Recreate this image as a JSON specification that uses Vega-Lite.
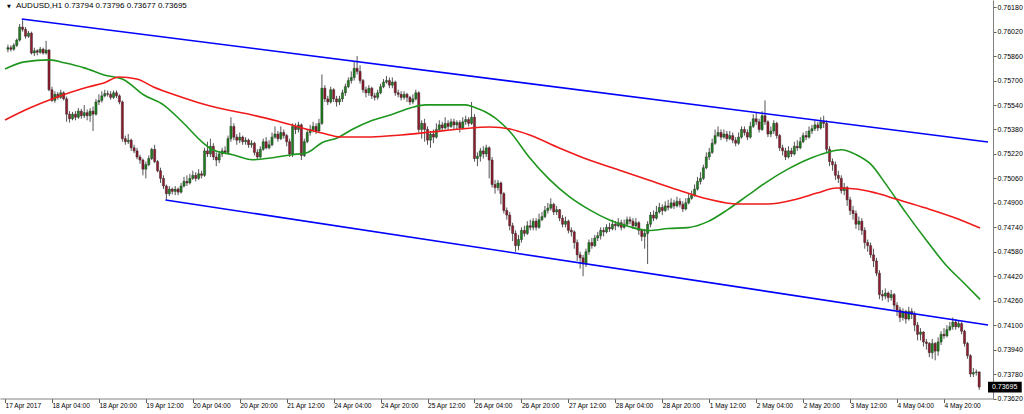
{
"$schema":"https://vega.github.io/schema/vega-lite/v6.json",
"width":993,"height":398.5,"autosize":{"type":"none"},"padding":{"left":0,"top":0,"right":31,"bottom":15.5},"background":"white",
"datasets":{
"candles":[
{"i":0,"o":0.75905,"h":0.75935,"l":0.75885,"c":0.75915},{"i":1,"o":0.75915,"h":0.7593,"l":0.7589,"c":0.75905},{"i":2,"o":0.75905,"h":0.75945,"l":0.75895,"c":0.7593},{"i":3,"o":0.7593,"h":0.75975,"l":0.7592,"c":0.75965},{"i":4,"o":0.75965,"h":0.7607,"l":0.75955,"c":0.7605},{"i":5,"o":0.7605,"h":0.76095,"l":0.7602,"c":0.76035},{"i":6,"o":0.76035,"h":0.7605,"l":0.75975,"c":0.7599},{"i":7,"o":0.7599,"h":0.76025,"l":0.7598,"c":0.7601},{"i":8,"o":0.7601,"h":0.7602,"l":0.7587,"c":0.7588},{"i":9,"o":0.7588,"h":0.75915,"l":0.7586,"c":0.75895},
{"i":10,"o":0.75895,"h":0.75905,"l":0.75865,"c":0.75885},{"i":11,"o":0.75885,"h":0.7592,"l":0.75875,"c":0.75905},{"i":12,"o":0.75905,"h":0.75915,"l":0.7587,"c":0.7588},{"i":13,"o":0.7588,"h":0.7596,"l":0.7587,"c":0.759},{"i":14,"o":0.759,"h":0.75905,"l":0.7563,"c":0.7564},{"i":15,"o":0.7564,"h":0.7566,"l":0.7556,"c":0.7557},{"i":16,"o":0.7557,"h":0.7563,"l":0.75555,"c":0.7561},{"i":17,"o":0.7561,"h":0.75625,"l":0.75575,"c":0.7559},{"i":18,"o":0.7559,"h":0.7564,"l":0.7558,"c":0.7562},{"i":19,"o":0.7562,"h":0.7563,"l":0.7557,"c":0.7558},
{"i":20,"o":0.7558,"h":0.75595,"l":0.7543,"c":0.7548},{"i":21,"o":0.7548,"h":0.755,"l":0.75425,"c":0.7545},{"i":22,"o":0.7545,"h":0.75495,"l":0.7544,"c":0.7548},{"i":23,"o":0.7548,"h":0.755,"l":0.7544,"c":0.7546},{"i":24,"o":0.7546,"h":0.7552,"l":0.7545,"c":0.755},{"i":25,"o":0.755,"h":0.75515,"l":0.7545,"c":0.7547},{"i":26,"o":0.7547,"h":0.7554,"l":0.75455,"c":0.7549},{"i":27,"o":0.7549,"h":0.7551,"l":0.7544,"c":0.7547},{"i":28,"o":0.7547,"h":0.7552,"l":0.7543,"c":0.755},{"i":29,"o":0.755,"h":0.7553,"l":0.7537,"c":0.7548},
{"i":30,"o":0.7548,"h":0.7558,"l":0.7547,"c":0.7556},{"i":31,"o":0.7556,"h":0.7561,"l":0.7554,"c":0.7557},{"i":32,"o":0.7557,"h":0.7563,"l":0.75555,"c":0.756},{"i":33,"o":0.756,"h":0.7564,"l":0.7559,"c":0.75615},{"i":34,"o":0.75615,"h":0.75635,"l":0.75595,"c":0.7561},{"i":35,"o":0.7561,"h":0.7563,"l":0.75575,"c":0.7559},{"i":36,"o":0.7559,"h":0.75635,"l":0.7558,"c":0.7562},{"i":37,"o":0.7562,"h":0.75635,"l":0.75585,"c":0.756},{"i":38,"o":0.756,"h":0.7561,"l":0.75545,"c":0.7556},{"i":39,"o":0.7556,"h":0.7557,"l":0.753,"c":0.7532},
{"i":40,"o":0.7532,"h":0.7534,"l":0.7528,"c":0.753},{"i":41,"o":0.753,"h":0.7535,"l":0.75285,"c":0.7531},{"i":42,"o":0.7531,"h":0.7532,"l":0.7524,"c":0.7526},{"i":43,"o":0.7526,"h":0.7528,"l":0.75225,"c":0.7524},{"i":44,"o":0.7524,"h":0.7526,"l":0.75185,"c":0.752},{"i":45,"o":0.752,"h":0.75215,"l":0.75155,"c":0.7518},{"i":46,"o":0.7518,"h":0.7519,"l":0.7508,"c":0.7512},{"i":47,"o":0.7512,"h":0.7517,"l":0.7506,"c":0.7515},{"i":48,"o":0.7515,"h":0.7521,"l":0.7514,"c":0.7519},{"i":49,"o":0.7519,"h":0.7526,"l":0.7518,"c":0.7525},
{"i":50,"o":0.7525,"h":0.7528,"l":0.7516,"c":0.7517},{"i":51,"o":0.7517,"h":0.7518,"l":0.751,"c":0.7511},{"i":52,"o":0.7511,"h":0.7513,"l":0.7503,"c":0.7506},{"i":53,"o":0.7506,"h":0.7508,"l":0.7499,"c":0.7501},{"i":54,"o":0.7501,"h":0.7502,"l":0.7492,"c":0.7496},{"i":55,"o":0.7496,"h":0.7501,"l":0.74945,"c":0.7499},{"i":56,"o":0.7499,"h":0.75,"l":0.74955,"c":0.74975},{"i":57,"o":0.74975,"h":0.7501,"l":0.7495,"c":0.7499},{"i":58,"o":0.7499,"h":0.75,"l":0.7495,"c":0.7497},{"i":59,"o":0.7497,"h":0.7503,"l":0.7496,"c":0.7501},
{"i":60,"o":0.7501,"h":0.7507,"l":0.75,"c":0.7504},{"i":61,"o":0.7504,"h":0.7508,"l":0.7501,"c":0.7503},{"i":62,"o":0.7503,"h":0.7509,"l":0.7502,"c":0.7506},{"i":63,"o":0.7506,"h":0.7511,"l":0.7505,"c":0.7508},{"i":64,"o":0.7508,"h":0.751,"l":0.7504,"c":0.7506},{"i":65,"o":0.7506,"h":0.7512,"l":0.7505,"c":0.7509},{"i":66,"o":0.7509,"h":0.7511,"l":0.7506,"c":0.7508},{"i":67,"o":0.7508,"h":0.7526,"l":0.7507,"c":0.7524},{"i":68,"o":0.7524,"h":0.753,"l":0.752,"c":0.7522},{"i":69,"o":0.7522,"h":0.7532,"l":0.752,"c":0.7527},
{"i":70,"o":0.7527,"h":0.7529,"l":0.7518,"c":0.752},{"i":71,"o":0.752,"h":0.7523,"l":0.7514,"c":0.7518},{"i":72,"o":0.7518,"h":0.7524,"l":0.7516,"c":0.7522},{"i":73,"o":0.7522,"h":0.7526,"l":0.752,"c":0.7524},{"i":74,"o":0.7524,"h":0.7527,"l":0.7522,"c":0.7523},{"i":75,"o":0.7523,"h":0.7534,"l":0.7522,"c":0.7532},{"i":76,"o":0.7532,"h":0.7546,"l":0.753,"c":0.754},{"i":77,"o":0.754,"h":0.7542,"l":0.7531,"c":0.7533},{"i":78,"o":0.7533,"h":0.7535,"l":0.7528,"c":0.7531},{"i":79,"o":0.7531,"h":0.7536,"l":0.7529,"c":0.7533},
{"i":80,"o":0.7533,"h":0.7534,"l":0.7528,"c":0.753},{"i":81,"o":0.753,"h":0.7533,"l":0.7528,"c":0.7531},{"i":82,"o":0.7531,"h":0.7532,"l":0.7526,"c":0.7528},{"i":83,"o":0.7528,"h":0.7531,"l":0.7526,"c":0.7529},{"i":84,"o":0.7529,"h":0.753,"l":0.7521,"c":0.7523},{"i":85,"o":0.7523,"h":0.7525,"l":0.7518,"c":0.752},{"i":86,"o":0.752,"h":0.7527,"l":0.7519,"c":0.7525},{"i":87,"o":0.7525,"h":0.7532,"l":0.7524,"c":0.753},{"i":88,"o":0.753,"h":0.7533,"l":0.7525,"c":0.7526},{"i":89,"o":0.7526,"h":0.7531,"l":0.7525,"c":0.7528},
{"i":90,"o":0.7528,"h":0.7536,"l":0.7527,"c":0.7533},{"i":91,"o":0.7533,"h":0.754,"l":0.7532,"c":0.7535},{"i":92,"o":0.7535,"h":0.7537,"l":0.753,"c":0.7532},{"i":93,"o":0.7532,"h":0.754,"l":0.7531,"c":0.7536},{"i":94,"o":0.7536,"h":0.7538,"l":0.7532,"c":0.7534},{"i":95,"o":0.7534,"h":0.7535,"l":0.7527,"c":0.753},{"i":96,"o":0.753,"h":0.7532,"l":0.752,"c":0.7522},{"i":97,"o":0.7522,"h":0.7542,"l":0.752,"c":0.754},{"i":98,"o":0.754,"h":0.7542,"l":0.7535,"c":0.7538},{"i":99,"o":0.7538,"h":0.7543,"l":0.7536,"c":0.7541},
{"i":100,"o":0.7541,"h":0.7542,"l":0.7518,"c":0.7521},{"i":101,"o":0.7521,"h":0.7532,"l":0.752,"c":0.753},{"i":102,"o":0.753,"h":0.7538,"l":0.7529,"c":0.7536},{"i":103,"o":0.7536,"h":0.7541,"l":0.7534,"c":0.7538},{"i":104,"o":0.7538,"h":0.7543,"l":0.7536,"c":0.754},{"i":105,"o":0.754,"h":0.7542,"l":0.7535,"c":0.7537},{"i":106,"o":0.7537,"h":0.7545,"l":0.7536,"c":0.7542},{"i":107,"o":0.7542,"h":0.7574,"l":0.7541,"c":0.7565},{"i":108,"o":0.7565,"h":0.7567,"l":0.7556,"c":0.7558},{"i":109,"o":0.7558,"h":0.756,"l":0.7554,"c":0.7556},
{"i":110,"o":0.7556,"h":0.7566,"l":0.7555,"c":0.7564},{"i":111,"o":0.7564,"h":0.7565,"l":0.7556,"c":0.7558},{"i":112,"o":0.7558,"h":0.756,"l":0.7553,"c":0.7556},{"i":113,"o":0.7556,"h":0.756,"l":0.7554,"c":0.7558},{"i":114,"o":0.7558,"h":0.7564,"l":0.7556,"c":0.7562},{"i":115,"o":0.7562,"h":0.7568,"l":0.756,"c":0.7566},{"i":116,"o":0.7566,"h":0.7572,"l":0.7565,"c":0.757},{"i":117,"o":0.757,"h":0.7576,"l":0.7568,"c":0.7572},{"i":118,"o":0.7572,"h":0.7582,"l":0.757,"c":0.7578},{"i":119,"o":0.7578,"h":0.7586,"l":0.7574,"c":0.7576},
{"i":120,"o":0.7576,"h":0.758,"l":0.7568,"c":0.757},{"i":121,"o":0.757,"h":0.7571,"l":0.7562,"c":0.7564},{"i":122,"o":0.7564,"h":0.7566,"l":0.7559,"c":0.7562},{"i":123,"o":0.7562,"h":0.7567,"l":0.756,"c":0.7565},{"i":124,"o":0.7565,"h":0.7566,"l":0.7558,"c":0.756},{"i":125,"o":0.756,"h":0.7562,"l":0.7557,"c":0.7559},{"i":126,"o":0.7559,"h":0.7564,"l":0.75575,"c":0.7562},{"i":127,"o":0.7562,"h":0.7568,"l":0.7561,"c":0.7566},{"i":128,"o":0.7566,"h":0.7571,"l":0.7565,"c":0.7569},{"i":129,"o":0.7569,"h":0.7573,"l":0.7568,"c":0.757},
{"i":130,"o":0.757,"h":0.7572,"l":0.7565,"c":0.7567},{"i":131,"o":0.7567,"h":0.7572,"l":0.7565,"c":0.7569},{"i":132,"o":0.7569,"h":0.757,"l":0.756,"c":0.7562},{"i":133,"o":0.7562,"h":0.7564,"l":0.7559,"c":0.7561},{"i":134,"o":0.7561,"h":0.7563,"l":0.7557,"c":0.7559},{"i":135,"o":0.7559,"h":0.7563,"l":0.75575,"c":0.7561},{"i":136,"o":0.7561,"h":0.7562,"l":0.7556,"c":0.7559},{"i":137,"o":0.7559,"h":0.756,"l":0.7554,"c":0.7556},{"i":138,"o":0.7556,"h":0.7561,"l":0.75545,"c":0.7558},{"i":139,"o":0.7558,"h":0.7564,"l":0.7557,"c":0.7562},
{"i":140,"o":0.7562,"h":0.7563,"l":0.7536,"c":0.7538},{"i":141,"o":0.7538,"h":0.7544,"l":0.7532,"c":0.7542},{"i":142,"o":0.7542,"h":0.7545,"l":0.753,"c":0.7538},{"i":143,"o":0.7538,"h":0.754,"l":0.7528,"c":0.7531},{"i":144,"o":0.7531,"h":0.7537,"l":0.7526,"c":0.7535},{"i":145,"o":0.7535,"h":0.7538,"l":0.7529,"c":0.7533},{"i":146,"o":0.7533,"h":0.7542,"l":0.7532,"c":0.7538},{"i":147,"o":0.7538,"h":0.7544,"l":0.7537,"c":0.7541},{"i":148,"o":0.7541,"h":0.7543,"l":0.7537,"c":0.7539},{"i":149,"o":0.7539,"h":0.7546,"l":0.7538,"c":0.7542},
{"i":150,"o":0.7542,"h":0.7544,"l":0.7537,"c":0.754},{"i":151,"o":0.754,"h":0.7545,"l":0.7539,"c":0.7543},{"i":152,"o":0.7543,"h":0.7545,"l":0.7538,"c":0.7541},{"i":153,"o":0.7541,"h":0.7544,"l":0.7538,"c":0.75425},{"i":154,"o":0.75425,"h":0.7544,"l":0.7536,"c":0.7539},{"i":155,"o":0.7539,"h":0.7546,"l":0.7538,"c":0.7543},{"i":156,"o":0.7543,"h":0.7547,"l":0.7541,"c":0.75445},{"i":157,"o":0.75445,"h":0.7546,"l":0.754,"c":0.7542},{"i":158,"o":0.7542,"h":0.7556,"l":0.7541,"c":0.7546},{"i":159,"o":0.7546,"h":0.7548,"l":0.7517,"c":0.7519},
{"i":160,"o":0.7519,"h":0.7523,"l":0.7514,"c":0.75205},{"i":161,"o":0.75205,"h":0.7526,"l":0.7517,"c":0.7524},{"i":162,"o":0.7524,"h":0.7527,"l":0.7519,"c":0.7522},{"i":163,"o":0.7522,"h":0.7528,"l":0.752,"c":0.7526},{"i":164,"o":0.7526,"h":0.7527,"l":0.7506,"c":0.7518},{"i":165,"o":0.7518,"h":0.752,"l":0.75,"c":0.7502},{"i":166,"o":0.7502,"h":0.7505,"l":0.7496,"c":0.75},{"i":167,"o":0.75,"h":0.7505,"l":0.7498,"c":0.7503},{"i":168,"o":0.7503,"h":0.7504,"l":0.7489,"c":0.7496},{"i":169,"o":0.7496,"h":0.7497,"l":0.7483,"c":0.7485},
{"i":170,"o":0.7485,"h":0.7487,"l":0.7479,"c":0.7482},{"i":171,"o":0.7482,"h":0.7484,"l":0.7472,"c":0.7475},{"i":172,"o":0.7475,"h":0.7477,"l":0.7465,"c":0.747},{"i":173,"o":0.747,"h":0.7472,"l":0.7458,"c":0.7462},{"i":174,"o":0.7462,"h":0.7469,"l":0.7459,"c":0.7466},{"i":175,"o":0.7466,"h":0.7474,"l":0.7464,"c":0.7472},{"i":176,"o":0.7472,"h":0.7475,"l":0.7468,"c":0.747},{"i":177,"o":0.747,"h":0.7478,"l":0.7469,"c":0.7475},{"i":178,"o":0.7475,"h":0.7479,"l":0.7472,"c":0.7474},{"i":179,"o":0.7474,"h":0.748,"l":0.7472,"c":0.7478},
{"i":180,"o":0.7478,"h":0.748,"l":0.7472,"c":0.7474},{"i":181,"o":0.7474,"h":0.7483,"l":0.7473,"c":0.7479},{"i":182,"o":0.7479,"h":0.7484,"l":0.7478,"c":0.7481},{"i":183,"o":0.7481,"h":0.7488,"l":0.748,"c":0.7485},{"i":184,"o":0.7485,"h":0.749,"l":0.7483,"c":0.74865},{"i":185,"o":0.74865,"h":0.7493,"l":0.7485,"c":0.7489},{"i":186,"o":0.7489,"h":0.749,"l":0.7482,"c":0.7484},{"i":187,"o":0.7484,"h":0.7488,"l":0.7482,"c":0.74855},{"i":188,"o":0.74855,"h":0.7486,"l":0.7478,"c":0.748},{"i":189,"o":0.748,"h":0.7482,"l":0.7474,"c":0.7476},
{"i":190,"o":0.7476,"h":0.7481,"l":0.7474,"c":0.7478},{"i":191,"o":0.7478,"h":0.7479,"l":0.747,"c":0.7472},{"i":192,"o":0.7472,"h":0.7474,"l":0.7468,"c":0.7471},{"i":193,"o":0.7471,"h":0.7472,"l":0.746,"c":0.7464},{"i":194,"o":0.7464,"h":0.7466,"l":0.7452,"c":0.7456},{"i":195,"o":0.7456,"h":0.7458,"l":0.7447,"c":0.7454},{"i":196,"o":0.7454,"h":0.7456,"l":0.7442,"c":0.745},{"i":197,"o":0.745,"h":0.746,"l":0.7448,"c":0.7458},{"i":198,"o":0.7458,"h":0.7466,"l":0.7456,"c":0.7464},{"i":199,"o":0.7464,"h":0.7467,"l":0.746,"c":0.7462},
{"i":200,"o":0.7462,"h":0.7469,"l":0.7461,"c":0.7467},{"i":201,"o":0.7467,"h":0.7471,"l":0.7465,"c":0.74685},{"i":202,"o":0.74685,"h":0.7474,"l":0.7466,"c":0.7472},{"i":203,"o":0.7472,"h":0.7474,"l":0.7468,"c":0.7471},{"i":204,"o":0.7471,"h":0.7476,"l":0.747,"c":0.7474},{"i":205,"o":0.7474,"h":0.7477,"l":0.7471,"c":0.7473},{"i":206,"o":0.7473,"h":0.7479,"l":0.7472,"c":0.7476},{"i":207,"o":0.7476,"h":0.7478,"l":0.7472,"c":0.7475},{"i":208,"o":0.7475,"h":0.748,"l":0.7474,"c":0.7477},{"i":209,"o":0.7477,"h":0.7479,"l":0.7472,"c":0.7474},
{"i":210,"o":0.7474,"h":0.7479,"l":0.7473,"c":0.7476},{"i":211,"o":0.7476,"h":0.7481,"l":0.7475,"c":0.7479},{"i":212,"o":0.7479,"h":0.7481,"l":0.7476,"c":0.7478},{"i":213,"o":0.7478,"h":0.748,"l":0.7473,"c":0.7475},{"i":214,"o":0.7475,"h":0.748,"l":0.7474,"c":0.7477},{"i":215,"o":0.7477,"h":0.7478,"l":0.7469,"c":0.7472},{"i":216,"o":0.7472,"h":0.7473,"l":0.7465,"c":0.7468},{"i":217,"o":0.7468,"h":0.7473,"l":0.746,"c":0.747},{"i":218,"o":0.747,"h":0.7478,"l":0.745,"c":0.7476},{"i":219,"o":0.7476,"h":0.7484,"l":0.7474,"c":0.7482},
{"i":220,"o":0.7482,"h":0.7485,"l":0.7478,"c":0.748},{"i":221,"o":0.748,"h":0.7488,"l":0.7479,"c":0.7484},{"i":222,"o":0.7484,"h":0.749,"l":0.7483,"c":0.7487},{"i":223,"o":0.7487,"h":0.7489,"l":0.7482,"c":0.7485},{"i":224,"o":0.7485,"h":0.7491,"l":0.7484,"c":0.7488},{"i":225,"o":0.7488,"h":0.7492,"l":0.7485,"c":0.7487},{"i":226,"o":0.7487,"h":0.7493,"l":0.7486,"c":0.749},{"i":227,"o":0.749,"h":0.7492,"l":0.7486,"c":0.7488},{"i":228,"o":0.7488,"h":0.7494,"l":0.7487,"c":0.7491},{"i":229,"o":0.7491,"h":0.7493,"l":0.7487,"c":0.7489},
{"i":230,"o":0.7489,"h":0.7491,"l":0.7484,"c":0.7486},{"i":231,"o":0.7486,"h":0.7493,"l":0.7485,"c":0.749},{"i":232,"o":0.749,"h":0.7496,"l":0.7489,"c":0.7493},{"i":233,"o":0.7493,"h":0.7498,"l":0.7492,"c":0.7495},{"i":234,"o":0.7495,"h":0.7502,"l":0.7494,"c":0.7499},{"i":235,"o":0.7499,"h":0.7507,"l":0.7498,"c":0.7504},{"i":236,"o":0.7504,"h":0.751,"l":0.7502,"c":0.7506},{"i":237,"o":0.7506,"h":0.7515,"l":0.7505,"c":0.7513},{"i":238,"o":0.7513,"h":0.7523,"l":0.7512,"c":0.752},{"i":239,"o":0.752,"h":0.7526,"l":0.7518,"c":0.7523},
{"i":240,"o":0.7523,"h":0.7532,"l":0.7522,"c":0.7529},{"i":241,"o":0.7529,"h":0.7538,"l":0.7528,"c":0.7534},{"i":242,"o":0.7534,"h":0.754,"l":0.7533,"c":0.7536},{"i":243,"o":0.7536,"h":0.7538,"l":0.7531,"c":0.7533},{"i":244,"o":0.7533,"h":0.7538,"l":0.7532,"c":0.7535},{"i":245,"o":0.7535,"h":0.7537,"l":0.753,"c":0.7532},{"i":246,"o":0.7532,"h":0.7537,"l":0.7531,"c":0.7534},{"i":247,"o":0.7534,"h":0.7536,"l":0.7529,"c":0.7531},{"i":248,"o":0.7531,"h":0.7533,"l":0.7527,"c":0.7529},{"i":249,"o":0.7529,"h":0.7536,"l":0.7528,"c":0.7533},
{"i":250,"o":0.7533,"h":0.754,"l":0.7532,"c":0.7538},{"i":251,"o":0.7538,"h":0.754,"l":0.7534,"c":0.7536},{"i":252,"o":0.7536,"h":0.7538,"l":0.7531,"c":0.7533},{"i":253,"o":0.7533,"h":0.7543,"l":0.7532,"c":0.754},{"i":254,"o":0.754,"h":0.7548,"l":0.7539,"c":0.7545},{"i":255,"o":0.7545,"h":0.7549,"l":0.7541,"c":0.7543},{"i":256,"o":0.7543,"h":0.7545,"l":0.7536,"c":0.7538},{"i":257,"o":0.7538,"h":0.755,"l":0.7537,"c":0.7547},{"i":258,"o":0.7547,"h":0.7557,"l":0.7541,"c":0.7543},{"i":259,"o":0.7543,"h":0.7544,"l":0.7533,"c":0.7535},
{"i":260,"o":0.7535,"h":0.754,"l":0.7533,"c":0.7537},{"i":261,"o":0.7537,"h":0.7544,"l":0.7535,"c":0.7542},{"i":262,"o":0.7542,"h":0.7543,"l":0.7532,"c":0.7534},{"i":263,"o":0.7534,"h":0.7535,"l":0.7524,"c":0.7526},{"i":264,"o":0.7526,"h":0.7528,"l":0.7521,"c":0.7524},{"i":265,"o":0.7524,"h":0.7526,"l":0.7518,"c":0.752},{"i":266,"o":0.752,"h":0.7527,"l":0.7519,"c":0.7524},{"i":267,"o":0.7524,"h":0.7526,"l":0.752,"c":0.7522},{"i":268,"o":0.7522,"h":0.753,"l":0.7521,"c":0.7527},{"i":269,"o":0.7527,"h":0.7531,"l":0.7524,"c":0.7526},
{"i":270,"o":0.7526,"h":0.7533,"l":0.7525,"c":0.753},{"i":271,"o":0.753,"h":0.7536,"l":0.7529,"c":0.7534},{"i":272,"o":0.7534,"h":0.7537,"l":0.7531,"c":0.7533},{"i":273,"o":0.7533,"h":0.754,"l":0.7532,"c":0.7537},{"i":274,"o":0.7537,"h":0.7541,"l":0.7535,"c":0.75385},{"i":275,"o":0.75385,"h":0.7544,"l":0.7537,"c":0.7541},{"i":276,"o":0.7541,"h":0.7543,"l":0.7537,"c":0.7539},{"i":277,"o":0.7539,"h":0.7546,"l":0.7538,"c":0.7543},{"i":278,"o":0.7543,"h":0.7547,"l":0.7539,"c":0.7542},{"i":279,"o":0.7542,"h":0.7544,"l":0.7523,"c":0.7525},
{"i":280,"o":0.7525,"h":0.7527,"l":0.7514,"c":0.7517},{"i":281,"o":0.7517,"h":0.7519,"l":0.7511,"c":0.7515},{"i":282,"o":0.7515,"h":0.7517,"l":0.7505,"c":0.7508},{"i":283,"o":0.7508,"h":0.7511,"l":0.7503,"c":0.7506},{"i":284,"o":0.7506,"h":0.7508,"l":0.7496,"c":0.7498},{"i":285,"o":0.7498,"h":0.7503,"l":0.7495,"c":0.75},{"i":286,"o":0.75,"h":0.7501,"l":0.7488,"c":0.7492},{"i":287,"o":0.7492,"h":0.7494,"l":0.7482,"c":0.7485},{"i":288,"o":0.7485,"h":0.7488,"l":0.7479,"c":0.7483},{"i":289,"o":0.7483,"h":0.7485,"l":0.7473,"c":0.7476},
{"i":290,"o":0.7476,"h":0.7481,"l":0.7472,"c":0.7478},{"i":291,"o":0.7478,"h":0.748,"l":0.7469,"c":0.7472},{"i":292,"o":0.7472,"h":0.7474,"l":0.746,"c":0.7464},{"i":293,"o":0.7464,"h":0.7466,"l":0.7458,"c":0.7462},{"i":294,"o":0.7462,"h":0.7464,"l":0.7454,"c":0.7456},{"i":295,"o":0.7456,"h":0.746,"l":0.7448,"c":0.7452},{"i":296,"o":0.7452,"h":0.7454,"l":0.7442,"c":0.7444},{"i":297,"o":0.7444,"h":0.7446,"l":0.7427,"c":0.743},{"i":298,"o":0.743,"h":0.7433,"l":0.7426,"c":0.7429},{"i":299,"o":0.7429,"h":0.7434,"l":0.7427,"c":0.7431},
{"i":300,"o":0.7431,"h":0.7432,"l":0.7425,"c":0.7428},{"i":301,"o":0.7428,"h":0.7433,"l":0.7426,"c":0.743},{"i":302,"o":0.743,"h":0.7431,"l":0.742,"c":0.7423},{"i":303,"o":0.7423,"h":0.7425,"l":0.7416,"c":0.742},{"i":304,"o":0.742,"h":0.7422,"l":0.7412,"c":0.7415},{"i":305,"o":0.7415,"h":0.7421,"l":0.7413,"c":0.7419},{"i":306,"o":0.7419,"h":0.742,"l":0.7411,"c":0.7414},{"i":307,"o":0.7414,"h":0.7422,"l":0.7413,"c":0.7419},{"i":308,"o":0.7419,"h":0.7421,"l":0.7414,"c":0.7417},{"i":309,"o":0.7417,"h":0.7419,"l":0.7406,"c":0.741},
{"i":310,"o":0.741,"h":0.7412,"l":0.74,"c":0.7404},{"i":311,"o":0.7404,"h":0.7408,"l":0.74,"c":0.74055},{"i":312,"o":0.74055,"h":0.7406,"l":0.7396,"c":0.7399},{"i":313,"o":0.7399,"h":0.7401,"l":0.7394,"c":0.7398},{"i":314,"o":0.7398,"h":0.7399,"l":0.7389,"c":0.7392},{"i":315,"o":0.7392,"h":0.7401,"l":0.7388,"c":0.7398},{"i":316,"o":0.7398,"h":0.7399,"l":0.7387,"c":0.7393},{"i":317,"o":0.7393,"h":0.7402,"l":0.739,"c":0.7399},{"i":318,"o":0.7399,"h":0.7406,"l":0.7397,"c":0.7404},{"i":319,"o":0.7404,"h":0.7408,"l":0.7401,"c":0.7403},
{"i":320,"o":0.7403,"h":0.741,"l":0.7402,"c":0.7407},{"i":321,"o":0.7407,"h":0.7412,"l":0.7406,"c":0.7409},{"i":322,"o":0.7409,"h":0.7415,"l":0.7407,"c":0.7412},{"i":323,"o":0.7412,"h":0.7414,"l":0.7407,"c":0.7409},{"i":324,"o":0.7409,"h":0.7413,"l":0.7408,"c":0.7411},{"i":325,"o":0.7411,"h":0.7412,"l":0.7404,"c":0.7406},{"i":326,"o":0.7406,"h":0.7407,"l":0.7396,"c":0.7398},{"i":327,"o":0.7398,"h":0.7399,"l":0.7388,"c":0.739},{"i":328,"o":0.739,"h":0.7391,"l":0.7376,"c":0.7378},{"i":329,"o":0.7378,"h":0.7382,"l":0.7376,"c":0.7379},
{"i":330,"o":0.7379,"h":0.7381,"l":0.7377,"c":0.73794},{"i":331,"o":0.73794,"h":0.73796,"l":0.73677,"c":0.73695}
],
"ma":[
{"i":-1,"v":0.75776,"s":"fast"},{"i":5.7,"v":0.75822,"s":"fast"},{"i":14.2,"v":0.75835,"s":"fast"},{"i":19.2,"v":0.75816,"s":"fast"},{"i":26,"v":0.75783,"s":"fast"},{"i":32.7,"v":0.75737,"s":"fast"},{"i":39.5,"v":0.75705,"s":"fast"},{"i":46.2,"v":0.75607,"s":"fast"},{"i":53,"v":0.75541,"s":"fast"},{"i":59.7,"v":0.75424,"s":"fast"},{"i":66.5,"v":0.75293,"s":"fast"},{"i":69.8,"v":0.75247,"s":"fast"},{"i":76.6,"v":0.75215,"s":"fast"},{"i":83.3,"v":0.75182,"s":"fast"},{"i":90.1,"v":0.75195,"s":"fast"},{"i":96.8,"v":0.75215,"s":"fast"},{"i":101.9,"v":0.75228,"s":"fast"},{"i":107,"v":0.75293,"s":"fast"},{"i":112.4,"v":0.75326,"s":"fast"},{"i":117.1,"v":0.75378,"s":"fast"},{"i":123.8,"v":0.75437,"s":"fast"},{"i":130.6,"v":0.75476,"s":"fast"},{"i":137.3,"v":0.75522,"s":"fast"},{"i":142.4,"v":0.75541,"s":"fast"},{"i":149.1,"v":0.75541,"s":"fast"},{"i":155.9,"v":0.75541,"s":"fast"},{"i":159.3,"v":0.75522,"s":"fast"},{"i":162.6,"v":0.75496,"s":"fast"},{"i":166,"v":0.75456,"s":"fast"},{"i":171.1,"v":0.75365,"s":"fast"},{"i":177.8,"v":0.75195,"s":"fast"},{"i":184.6,"v":0.75052,"s":"fast"},{"i":191.3,"v":0.74941,"s":"fast"},{"i":198.1,"v":0.74856,"s":"fast"},{"i":204.8,"v":0.7479,"s":"fast"},{"i":211.6,"v":0.74745,"s":"fast"},{"i":218.3,"v":0.74719,"s":"fast"},{"i":225,"v":0.74732,"s":"fast"},{"i":231.8,"v":0.74738,"s":"fast"},{"i":238.5,"v":0.74777,"s":"fast"},{"i":245.3,"v":0.74856,"s":"fast"},{"i":252,"v":0.74947,"s":"fast"},{"i":258.8,"v":0.75039,"s":"fast"},{"i":265.5,"v":0.75117,"s":"fast"},{"i":272.3,"v":0.75182,"s":"fast"},{"i":279,"v":0.75228,"s":"fast"},{"i":284.1,"v":0.75247,"s":"fast"},{"i":289.1,"v":0.75215,"s":"fast"},{"i":294.2,"v":0.7515,"s":"fast"},{"i":299.3,"v":0.75019,"s":"fast"},{"i":306,"v":0.74836,"s":"fast"},{"i":312.8,"v":0.7466,"s":"fast"},{"i":319.5,"v":0.74497,"s":"fast"},{"i":326.3,"v":0.74366,"s":"fast"},{"i":331.3,"v":0.74268,"s":"fast"},
{"i":-1,"v":0.75442,"s":"slow"},{"i":7.4,"v":0.7552,"s":"slow"},{"i":15.9,"v":0.75586,"s":"slow"},{"i":27.3,"v":0.75658,"s":"slow"},{"i":32.7,"v":0.75684,"s":"slow"},{"i":37.8,"v":0.75723,"s":"slow"},{"i":43.9,"v":0.7571,"s":"slow"},{"i":49.6,"v":0.75658,"s":"slow"},{"i":58,"v":0.75599,"s":"slow"},{"i":66.5,"v":0.75547,"s":"slow"},{"i":74.9,"v":0.75507,"s":"slow"},{"i":83.3,"v":0.75475,"s":"slow"},{"i":91.8,"v":0.75435,"s":"slow"},{"i":100.2,"v":0.7539,"s":"slow"},{"i":107,"v":0.75357,"s":"slow"},{"i":113.7,"v":0.75331,"s":"slow"},{"i":123.8,"v":0.75331,"s":"slow"},{"i":134,"v":0.75344,"s":"slow"},{"i":144.1,"v":0.75363,"s":"slow"},{"i":154.2,"v":0.75383,"s":"slow"},{"i":164.3,"v":0.75396,"s":"slow"},{"i":171.1,"v":0.75383,"s":"slow"},{"i":177.8,"v":0.75344,"s":"slow"},{"i":187.9,"v":0.75259,"s":"slow"},{"i":198.1,"v":0.7518,"s":"slow"},{"i":208.2,"v":0.75115,"s":"slow"},{"i":218.3,"v":0.75049,"s":"slow"},{"i":228.4,"v":0.74984,"s":"slow"},{"i":238.5,"v":0.74925,"s":"slow"},{"i":248.7,"v":0.74892,"s":"slow"},{"i":258.8,"v":0.74892,"s":"slow"},{"i":268.9,"v":0.74925,"s":"slow"},{"i":275.7,"v":0.74964,"s":"slow"},{"i":282.4,"v":0.74997,"s":"slow"},{"i":289.1,"v":0.74991,"s":"slow"},{"i":295.9,"v":0.74964,"s":"slow"},{"i":302.6,"v":0.74925,"s":"slow"},{"i":312.8,"v":0.74866,"s":"slow"},{"i":322.9,"v":0.74801,"s":"slow"},{"i":331.3,"v":0.74735,"s":"slow"}
],
"channel":[
{"i":4.7,"p":0.76103,"line":"upper"},{"i":334,"p":0.75298,"line":"upper"},
{"i":53.7,"p":0.74919,"line":"lower"},{"i":334,"p":0.74101,"line":"lower"}
]
},
"layer":[
{"data":{"name":"candles"},"mark":{"type":"rule","color":"#555555","strokeWidth":1},
 "encoding":{
  "x":{"field":"i","type":"quantitative","title":null,"scale":{"domain":[-1,334],"nice":false,"zero":false},
   "axis":{"orient":"bottom","values":[-1,15,31,47,63,79,95,111,127,143,159,175,191,207,223,239,255,271,287,303,319],"tickCount":100,
    "labelExpr":"['17 Apr 2017','18 Apr 04:00','18 Apr 20:00','19 Apr 12:00','20 Apr 04:00','20 Apr 20:00','21 Apr 12:00','24 Apr 04:00','24 Apr 20:00','25 Apr 12:00','26 Apr 04:00','26 Apr 20:00','27 Apr 12:00','28 Apr 04:00','28 Apr 20:00','1 May 12:00','2 May 04:00','2 May 20:00','3 May 12:00','4 May 04:00','4 May 20:00'][round((datum.value+1)/16)]",
    "labelAlign":"left","labelBaseline":"top","labelDx":2,"labelPadding":0,"tickSize":4,"labelFontSize":6.6,"labelFlush":false,"labelOverlap":false,"title":null}},
  "y":{"field":"l","type":"quantitative","title":null,"scale":{"domain":[0.7362,0.76227],"nice":false,"zero":false},
   "axis":{"orient":"right","values":[0.7362,0.7378,0.7394,0.741,0.7426,0.7442,0.7458,0.7474,0.749,0.7506,0.7522,0.7538,0.7554,0.757,0.7586,0.7602,0.7618],"tickCount":100,
    "format":".5f","tickSize":3,"labelPadding":1,"labelFontSize":7,"labelFlush":false,"labelOverlap":false,"title":null}},
  "y2":{"field":"h"}}},
{"data":{"name":"candles"},"mark":{"type":"bar","width":2.2,"strokeWidth":0.4,"stroke":"#222"},
 "encoding":{
  "x":{"field":"i","type":"quantitative","title":null,"scale":{"domain":[-1,334],"nice":false,"zero":false}},
  "y":{"field":"o","type":"quantitative","title":null,"scale":{"domain":[0.7362,0.76227],"nice":false,"zero":false}},
  "y2":{"field":"c"},
  "color":{"condition":{"test":"datum.c >= datum.o","value":"#1E7F1E"},"value":"#8E1B2E"}}},
{"data":{"name":"ma"},"mark":{"type":"line","strokeWidth":1.6,"interpolate":"monotone"},
 "encoding":{
  "x":{"field":"i","type":"quantitative","title":null,"scale":{"domain":[-1,334],"nice":false,"zero":false}},
  "y":{"field":"v","type":"quantitative","title":null,"scale":{"domain":[0.7362,0.76227],"nice":false,"zero":false}},
  "color":{"field":"s","type":"nominal","scale":{"domain":["fast","slow"],"range":["#1E961E","#F01A1A"]},"legend":null}}},
{"data":{"name":"channel"},"mark":{"type":"line","strokeWidth":1.6,"color":"#0000FF"},
 "encoding":{
  "x":{"field":"i","type":"quantitative","title":null,"scale":{"domain":[-1,334],"nice":false,"zero":false}},
  "y":{"field":"p","type":"quantitative","title":null,"scale":{"domain":[0.7362,0.76227],"nice":false,"zero":false}},
  "detail":{"field":"line","type":"nominal"}}},
{"data":{"values":[{}]},"mark":{"type":"rect","color":"#000000","clip":false},
 "encoding":{"x":{"datum":334,"type":"quantitative"},"x2":{"datum":345.5},"y":{"datum":0.7373,"type":"quantitative"},"y2":{"datum":0.7366}}},
{"data":{"values":[{}]},"mark":{"type":"text","align":"left","baseline":"middle","dx":4,"color":"#FFFFFF","font":"Liberation Sans","fontSize":7,"text":"0.73695","clip":false},
 "encoding":{"x":{"datum":334,"type":"quantitative"},"y":{"datum":0.73695,"type":"quantitative"}}},
{"data":{"values":[{}]},"mark":{"type":"text","align":"left","baseline":"middle","dx":2,"dy":6,"color":"#000000","font":"DejaVu Sans","fontSize":5,"text":"▼"},
 "encoding":{"x":{"datum":-1,"type":"quantitative"},"y":{"datum":0.76227,"type":"quantitative"}}},
{"data":{"values":[{}]},"mark":{"type":"text","align":"left","baseline":"middle","dx":11,"dy":6,"color":"#000000","font":"Liberation Sans","fontSize":8,"text":"AUDUSD,H1  0.73794 0.73796 0.73677 0.73695"},
 "encoding":{"x":{"datum":-1,"type":"quantitative"},"y":{"datum":0.76227,"type":"quantitative"}}}
],
"config":{"view":{"stroke":null},"axis":{"grid":false,"labelFont":"Liberation Sans","labelFontSize":7,"labelColor":"#000000","domainColor":"#808080","tickColor":"#606060","labelOverlap":false,"labelFlush":false,"labelBound":false}}
}
